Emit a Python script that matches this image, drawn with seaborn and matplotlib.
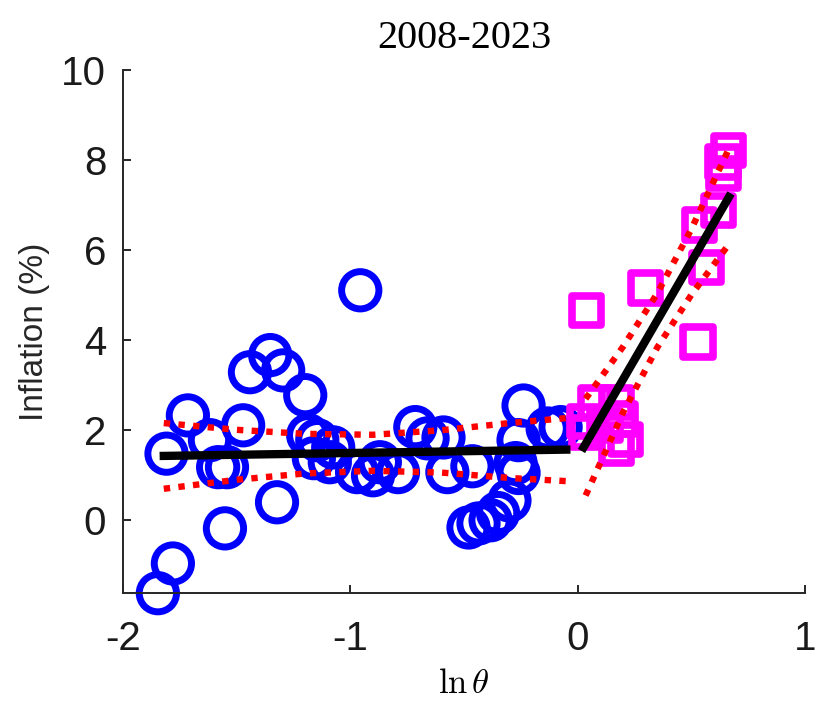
import matplotlib
matplotlib.use("Agg")
import matplotlib.pyplot as plt
import seaborn as sns
import pandas as pd

plt.rcParams["mathtext.fontset"] = "cm"

# blue circles: theta below threshold
low_x = [-1.846, -1.780, -1.808, -1.714, -1.617, -1.581, -1.542, -1.471, -1.441, -1.352,
         -1.295, -1.198, -1.322, -1.551, -0.956, -1.185, -1.145, -1.075, -1.160, -1.090,
         -0.970, -0.870, -0.900, -0.790, -0.714, -0.660, -0.590, -0.573, -0.463, -0.238,
         -0.260, -0.273, -0.260, -0.300, -0.383, -0.480, -0.436, -0.350, -0.132, -0.075]
low_y = [-1.62, -0.96, 1.48, 2.33, 1.78, 1.18, 1.18, 2.11, 3.29, 3.67,
         3.33, 2.78, 0.40, -0.18, 5.11, 1.89, 1.78, 1.62, 1.38, 1.29,
         1.07, 1.29, 1.00, 1.07, 2.07, 1.82, 1.84, 1.07, 1.20, 2.55,
         1.78, 1.27, 1.05, 0.44, 0.00, -0.16, -0.07, 0.16, 2.04, 2.07]

# magenta squares: theta above threshold
high_x = [0.040, 0.300, 0.529, 0.568, 0.537, 0.621, 0.643, 0.639, 0.665,
          0.080, 0.170, 0.030, 0.040, 0.190, 0.210, 0.170, 0.120]
high_y = [4.67, 5.16, 3.96, 5.62, 6.56, 6.89, 7.71, 7.96, 8.22,
          2.62, 2.62, 2.20, 1.95, 2.25, 1.80, 1.60, 2.10]

# fitted lines and confidence bands
fit_low_x = [-1.82, -0.05]
fit_low_y = [1.43, 1.57]
fit_high_x = [0.026, 0.665]
fit_high_y = [1.62, 7.18]

band_low_x = [-1.82, -1.5, -1.2, -0.9, -0.6, -0.3, -0.05]
band_low_up = [2.16, 2.01, 1.92, 1.90, 2.00, 2.16, 2.27]
band_low_dn = [0.70, 0.90, 1.04, 1.10, 1.06, 0.94, 0.87]

band_high_x = [0.035, 0.2, 0.35, 0.5, 0.66]
band_high_up = [2.70, 3.86, 5.04, 6.47, 8.20]
band_high_dn = [0.55, 2.40, 3.84, 5.01, 6.10]

low_df = pd.DataFrame({"x": low_x, "y": low_y})
high_df = pd.DataFrame({"x": high_x, "y": high_y})

fig = plt.figure(figsize=(8.19, 7.02), dpi=100)
ax = fig.add_axes([0.150, 0.155, 0.833, 0.745])

sns.scatterplot(data=low_df, x="x", y="y", ax=ax, marker="o", s=720,
                fc="none", ec=(0, 0, 1), linewidth=5, clip_on=False, zorder=2)
sns.scatterplot(data=high_df, x="x", y="y", ax=ax, marker="s", s=440,
                fc="none", ec=(1, 0, 1), linewidth=5.5, clip_on=False, zorder=3)

dot = (0, (1, 1.3))
for bx, by in [(band_low_x, band_low_up), (band_low_x, band_low_dn),
               (band_high_x, band_high_up), (band_high_x, band_high_dn)]:
    sns.lineplot(x=bx, y=by, ax=ax, color=(1, 0, 0), linewidth=4.6,
                 linestyle=dot, dash_capstyle="butt", sort=False,
                 estimator=None, zorder=5)

for fx, fy in [(fit_low_x, fit_low_y), (fit_high_x, fit_high_y)]:
    sns.lineplot(x=fx, y=fy, ax=ax, color="black", linewidth=6,
                 sort=False, estimator=None, zorder=4)

ax.set_xlim(-2, 1)
ax.set_ylim(-1.62, 10)
ax.set_xticks([-2, -1, 0, 1])
ax.set_yticks([0, 2, 4, 6, 8, 10])
ax.set_xticklabels(["-2", "-1", "0", "1"])

for side in ["top", "right"]:
    ax.spines[side].set_visible(False)
for side in ["left", "bottom"]:
    ax.spines[side].set_color("#262626")
    ax.spines[side].set_linewidth(1.4)

ax.tick_params(direction="in", length=6, width=1.4, color="#262626",
               labelsize=29, labelcolor="#1a1a1a")
ax.tick_params(axis="x", pad=19)
ax.tick_params(axis="y", pad=12)
for lab in ax.get_xticklabels() + ax.get_yticklabels():
    lab.set_family("Liberation Sans")

ax.set_xlabel(r"$\ln\theta$", fontsize=25, labelpad=6)
ax.set_ylabel("Inflation (%)", fontsize=24, family="Liberation Sans",
              color="#262626", labelpad=8)
ax.set_title("2008-2023", fontsize=29, family="Liberation Serif", pad=16)

fig.savefig("out.png", dpi=100)
